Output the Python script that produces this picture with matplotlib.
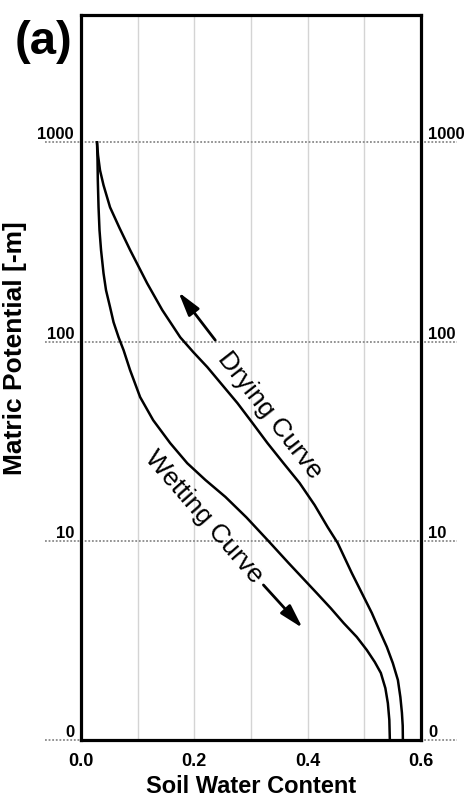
import matplotlib
matplotlib.use("Agg")
import matplotlib.pyplot as plt
from matplotlib.ticker import NullLocator

plt.rcParams["font.family"] = ["Liberation Sans", "DejaVu Sans"]

# drying branch
dry_theta = [0.0283, 0.0301, 0.0336, 0.0398, 0.0513, 0.0681, 0.0867, 0.1168, 0.1434,
             0.1752, 0.1982, 0.2230, 0.2496, 0.2761, 0.3027, 0.3292, 0.3575, 0.3858,
             0.4124, 0.4354, 0.4531, 0.4655, 0.4779, 0.4956, 0.5133, 0.5265, 0.5398,
             0.5504, 0.5593, 0.5637, 0.5664, 0.5678, 0.5681]
dry_psi = [1000, 861, 724, 609, 472, 371, 288, 196, 144,
           105, 88.5, 74.4, 60.4, 49.1, 39.0, 30.9, 24.5, 19.5,
           15.1, 11.7, 9.74, 8.19, 6.89, 5.47, 4.34, 3.56, 2.93,
           2.43, 2.00, 1.64, 1.37, 1.18, 1.0]

# wetting branch
wet_theta = [0.0283, 0.0292, 0.0297, 0.0310, 0.0327, 0.0354, 0.0398, 0.0442, 0.0513,
             0.0575, 0.0664, 0.0752, 0.0867, 0.1044, 0.1274, 0.1575, 0.1876, 0.2195,
             0.2549, 0.2920, 0.3310, 0.3664, 0.4159, 0.4407, 0.4637, 0.4867, 0.5044,
             0.5186, 0.5292, 0.5372, 0.5416, 0.5442, 0.5451]
wet_psi = [1000, 813, 645, 472, 362, 288, 220, 181, 149,
           125, 105, 90.5, 71.8, 52.6, 40.3, 30.9, 24.5, 20.2,
           16.6, 13.1, 9.96, 7.73, 5.47, 4.59, 3.86, 3.29, 2.83,
           2.46, 2.17, 1.82, 1.53, 1.26, 1.0]

x_ticks = [0.0, 0.2, 0.4, 0.6]
x_labels = ["0.0", "0.2", "0.4", "0.6"]
y_ticks = [1, 10, 100, 1000]
y_labels = ["0", "10", "100", "1000"]

fig = plt.figure(figsize=(4.67, 8), dpi=100)
ax = fig.add_axes([0.1734, 0.075, 0.728, 0.906])

ax.set_yscale("log")
ax.set_xlim(0, 0.6)
ax.set_ylim(1, 4345)

# light vertical grid
for gx in [0.1, 0.2, 0.3, 0.4, 0.5]:
    ax.axvline(gx, color="#d4d4d4", lw=1, zorder=0)

# dotted horizontal grid running past the frame
for gy in y_ticks:
    ax.plot([-0.106, 1.106], [gy, gy], transform=ax.get_yaxis_transform(),
            color="#8a8a8a", lw=1.3, ls=(0, (1, 1)), clip_on=False, zorder=0)

ax.plot(dry_theta, dry_psi, color="black", lw=1.8, clip_on=False,
        solid_joinstyle="round")
ax.plot(wet_theta, wet_psi, color="black", lw=1.8, clip_on=False,
        solid_joinstyle="round")

ax.text(0.334, 42.7, "Drying Curve", rotation=-52, rotation_mode="anchor",
        ha="center", va="center", fontsize=19)
ax.text(0.216, 13.2, "Wetting Curve", rotation=-49, rotation_mode="anchor",
        ha="center", va="center", fontsize=19)

arrow = dict(arrowstyle="-|>,head_length=0.9,head_width=0.25", color="black",
             lw=2, mutation_scale=16, shrinkA=0, shrinkB=0)
ax.annotate("", xy=(0.172, 177), xytext=(0.237, 101.6), arrowprops=arrow)
ax.annotate("", xy=(0.391, 3.65), xytext=(0.322, 6.0), arrowprops=arrow)

ax.set_xticks(x_ticks)
ax.set_xticklabels(x_labels, fontsize=13, fontweight="bold")
ax.set_yticks(y_ticks)
ax.set_yticklabels(y_labels, fontsize=12, fontweight="bold")
ax.yaxis.set_minor_locator(NullLocator())
ax.tick_params(axis="y", length=0, pad=5, labelright=True)
ax.tick_params(axis="x", length=0, pad=9)
for t in ax.yaxis.get_major_ticks():
    t.label1.set_va("bottom")
    t.label2.set_va("bottom")

for s in ax.spines.values():
    s.set_linewidth(2.3)

ax.set_xlabel("Soil Water Content", fontsize=17, fontweight="bold", labelpad=4)
ax.set_ylabel("Matric Potential [-m]", fontsize=19, fontweight="bold")
ax.yaxis.set_label_coords(-0.16, 0.54)

fig.text(0.094, 0.947, "(a)", fontsize=34, fontweight="bold", ha="center", va="center")

fig.savefig("out.png", dpi=100)
